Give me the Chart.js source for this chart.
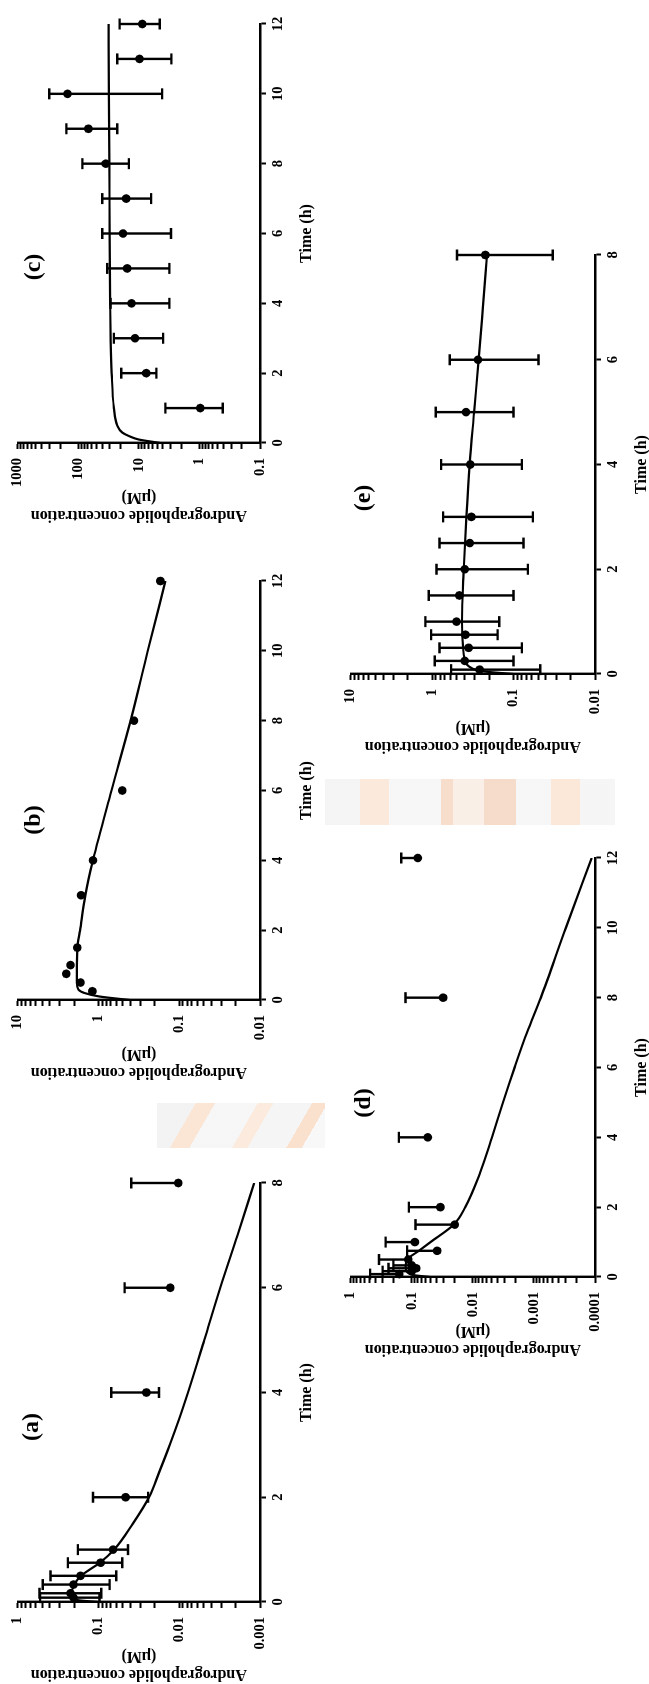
<!DOCTYPE html>
<html><head><meta charset="utf-8">
<script src="https://cdn.jsdelivr.net/npm/chart.js@4.4.1/dist/chart.umd.min.js"></script>
<style>
html,body{margin:0;padding:0;background:#fff;}
body{width:649px;height:1684px;overflow:hidden;position:relative;}
#page{position:absolute;left:0;top:0;width:1684px;height:649px;transform-origin:0 0;transform:translate(0px,1684px) rotate(-90deg);}
.panel{position:absolute;}
.plabel{position:absolute;font:bold 24px "Liberation Serif","Times New Roman",serif;transform:translate(-50%,-50%);white-space:nowrap;color:#000;}
.wm{position:absolute;opacity:0.45;}
#wm1{left:157px;top:1103px;width:168px;height:45px;background:linear-gradient(120deg,#e4e4e4 0 20%,#f6c6a0 20% 30%,#ececec 30% 52%,#f7d2b4 52% 60%,#e9e9e9 60% 80%,#f4bc92 80% 88%,#efefef 88%);}
#wm2{left:325px;top:779px;width:290px;height:46px;background:linear-gradient(90deg,#e8e8e8 0 12%,#f6d0b0 12% 22%,#ececec 22% 40%,#eeb48c 40% 44%,#f3dccb 44% 55%,#eab08a 55% 66%,#ececec 66% 78%,#f5cba8 78% 88%,#eaeaea 88%);}
</style></head><body>
<div class="wm" id="wm1"></div><div class="wm" id="wm2"></div>
<div id="page"></div>
<script>
// ---------- Panel (a) ----------
const timeA = [0.083, 0.167, 0.333, 0.5, 0.75, 1, 2, 4, 6, 8];
const concA = [0.204, 0.222, 0.204, 0.167, 0.094, 0.0662, 0.0461, 0.0255, 0.0129, 0.0103];
const errHighA = [0.528, 0.538, 0.49, 0.393, 0.239, 0.18, 0.117, 0.0695, 0.0474, 0.0392];
const errLowA = [0.0969, 0.0924, 0.0728, 0.0602, 0.0507, 0.0431, 0.0243, 0.0178, null, null];
const fitTimeA = [0, 0.03, 0.083, 0.15, 0.333, 0.5, 0.75, 1, 1.5, 2, 2.5, 3, 3.5, 4, 5, 6, 7, 8];
const fitConcA = [0.097, 0.17, 0.205, 0.215, 0.2, 0.165, 0.096, 0.064, 0.0374, 0.0237, 0.0175, 0.0131, 0.01, 0.0078, 0.0049, 0.0031, 0.0019, 0.00118];
const xTicksA = [0, 2, 4, 6, 8];
const yTicksA = [0.001, 0.01, 0.1, 1];
const yLabelsA = ['0.001', '0.01', '0.1', '1'];

// ---------- Panel (b) ----------
const timeB = [0.25, 0.5, 0.75, 1, 1.5, 3, 4, 6, 8, 12];
const concB = [1.19, 1.67, 2.51, 2.22, 1.83, 1.64, 1.17, 0.507, 0.363, 0.171];
const fitTimeB = [0, 0.1, 0.2, 0.3, 0.5, 1, 1.5, 2, 3, 4, 6, 8, 10, 12];
const fitConcB = [0.41, 0.97, 1.49, 1.77, 1.85, 1.85, 1.82, 1.69, 1.45, 1.17, 0.69, 0.40, 0.245, 0.148];
const xTicksB = [0, 2, 4, 6, 8, 10, 12];
const yTicksB = [0.01, 0.1, 1, 10];
const yLabelsB = ['0.01', '0.1', '1', '10'];

// ---------- Panel (c) ----------
const timeC = [1, 2, 3, 4, 5, 6, 7, 8, 9, 10, 11, 12];
const concC = [0.968, 7.57, 11.6, 13.2, 15.6, 18.3, 16.2, 35.3, 68.1, 150.6, 9.75, 8.81];
const errHighC = [3.65, 19.5, 25.8, 29.2, 33.2, 40.1, 40.1, 85.5, 157, 301, 22.7, 20.8];
const errLowC = [0.411, 5.13, 3.98, 3.13, 3.13, 2.94, 6.27, 14.6, 22.7, 4.13, 2.9, 4.52];
const fitTimeC = [0, 0.1, 0.2, 0.3, 0.5, 1, 2, 3, 4, 6, 8, 10, 12];
const fitConcC = [4.4, 10, 14.6, 18.8, 22.7, 25.8, 28.1, 29.2, 29.7, 30.3, 30.7, 31.2, 31.6];
const xTicksC = [0, 2, 4, 6, 8, 10, 12];
const yTicksC = [0.1, 1, 10, 100, 1000];
const yLabelsC = ['0.1', '1', '10', '100', '1000'];

// ---------- Panel (d) ----------
const timeD = [0.083, 0.167, 0.25, 0.333, 0.5, 0.75, 1, 1.5, 2, 4, 8, 12];
const concD = [0.16, 0.1, 0.085, 0.1, 0.1145, 0.0385, 0.0891, 0.0198, 0.034, 0.0546, 0.0307, 0.0796];
const errHighD = [0.48, 0.3, 0.24, 0.2, 0.344, 0.119, 0.268, 0.0869, 0.1116, 0.1625, 0.1265, 0.149];
const errLowD = [null, null, null, null, null, null, null, null, null, null, null, null];
const fitTimeD = [0, 0.05, 0.15, 0.3, 0.5, 0.75, 1, 1.5, 2, 3, 4, 5, 6, 7, 8, 10, 12];
const fitConcD = [0.05, 0.09, 0.12, 0.126, 0.119, 0.0766, 0.0494, 0.0206, 0.0133, 0.00755, 0.00486, 0.00321, 0.00207, 0.0013, 0.00077, 0.0003, 0.000113];
const xTicksD = [0, 2, 4, 6, 8, 10, 12];
const yTicksD = [0.0001, 0.001, 0.01, 0.1, 1];
const yLabelsD = ['0.0001', '0.001', '0.01', '0.1', '1'];

// ---------- Panel (e) ----------
const timeE = [0.083, 0.25, 0.5, 0.75, 1, 1.5, 2, 2.5, 3, 4, 5, 6, 8];
const concE = [0.261, 0.398, 0.356, 0.391, 0.503, 0.463, 0.398, 0.346, 0.33, 0.34, 0.384, 0.273, 0.222];
const errHighE = [0.585, 0.927, 0.813, 1.03, 1.21, 1.1, 0.885, 0.813, 0.733, 0.776, 0.902, 0.608, 0.494];
const errLowE = [0.047, 0.1, 0.079, 0.157, 0.15, 0.1, 0.0667, 0.0755, 0.058, 0.079, 0.1, 0.0494, 0.033];
const fitTimeE = [0, 0.05, 0.15, 0.3, 0.5, 1, 2, 3, 4, 5, 6, 7, 8];
const fitConcE = [0.1, 0.233, 0.356, 0.4, 0.417, 0.43, 0.409, 0.38, 0.346, 0.305, 0.268, 0.238, 0.212];
const xTicksE = [0, 2, 4, 6, 8];
const yTicksE = [0.01, 0.1, 1, 10];
const yLabelsE = ['0.01', '0.1', '1', '10'];

const panelLabels = ['(a)', '(b)', '(c)', '(d)', '(e)'];
const xTitle = 'Time (h)';
const yTitle = ['Andrographolide concentration', '(\u03bcM)'];

// ---------- rendering ----------
const FONT = '"Liberation Serif", "Times New Roman", Times, serif';
Chart.defaults.font.family = FONT;
Chart.defaults.font.weight = 'bold';
Chart.defaults.color = '#000';

function logTicks(majors) {
  const out = [];
  for (let i = 0; i < majors.length; i++) {
    const m = majors[i];
    out.push({ value: m, major: true });
    if (i < majors.length - 1) {
      for (let k = 2; k <= 9; k++) out.push({ value: +(m * k).toPrecision(8), major: false });
    }
  }
  return out;
}

const errorBars = {
  id: 'errorBars',
  beforeDatasetsDraw(chart) {
    const ctx = chart.ctx, xs = chart.scales.x, ys = chart.scales.y;
    chart.data.datasets.forEach(ds => {
      if (!ds.errHigh && !ds.errLow) return;
      ctx.save();
      ctx.strokeStyle = '#000';
      ctx.lineWidth = 2.4;
      ds.data.forEach((p, i) => {
        const px = xs.getPixelForValue(p.x);
        const py = ys.getPixelForValue(p.y);
        [ds.errHigh ? ds.errHigh[i] : null, ds.errLow ? ds.errLow[i] : null].forEach(v => {
          if (v == null) return;
          const ey = ys.getPixelForValue(v);
          ctx.beginPath();
          ctx.moveTo(px, py); ctx.lineTo(px, ey);
          ctx.moveTo(px - 5.5, ey); ctx.lineTo(px + 5.5, ey);
          ctx.stroke();
        });
      });
      ctx.restore();
    });
  }
};

const page = document.getElementById('page');
const Y_AXIS_W = 82, X_AXIS_H = 56, PAD_TOP = 17, PAD_RIGHT = 22, AREA_W = 419;

function makePanel(p) {
  const W = Y_AXIS_W + AREA_W + PAD_RIGHT;
  const H = PAD_TOP + p.areaH + X_AXIS_H;
  const wrap = document.createElement('div');
  wrap.className = 'panel';
  wrap.style.left = (p.areaLeft - Y_AXIS_W) + 'px';
  wrap.style.top = (p.areaTop - PAD_TOP) + 'px';
  const cv = document.createElement('canvas');
  cv.width = W; cv.height = H;
  cv.style.width = W + 'px'; cv.style.height = H + 'px';
  wrap.appendChild(cv);
  page.appendChild(wrap);

  const lab = document.createElement('div');
  lab.className = 'plabel';
  lab.textContent = p.label;
  lab.style.left = p.labelX + 'px';
  lab.style.top = p.labelY + 'px';
  page.appendChild(lab);

  const fit = p.fitT.map((t, i) => ({ x: t, y: p.fitC[i] }));
  const obs = p.t.map((t, i) => ({ x: t, y: p.c[i] }));
  const datasets = [
    { data: fit, borderColor: '#000', borderWidth: 2.2, pointRadius: 0, cubicInterpolationMode: 'monotone', fill: false, order: 2 },
    { data: obs, showLine: false, clip: false, pointRadius: 4.3, pointHoverRadius: 4.3, pointBackgroundColor: '#000', pointBorderColor: '#000', pointBorderWidth: 0, errHigh: p.eh || null, errLow: p.el || null, order: 1 }
  ];
  const tickFont = { size: 14.5, weight: 'bold', family: FONT };
  const gridOpt = { display: true, drawOnChartArea: false, drawTicks: true, tickLength: 6, tickWidth: 2, tickColor: '#000' };
  new Chart(cv, {
    type: 'line',
    data: { datasets },
    options: {
      responsive: false, animation: false, devicePixelRatio: 1,
      layout: { padding: { left: 0, top: PAD_TOP, right: PAD_RIGHT, bottom: 0 } },
      plugins: { legend: { display: false }, tooltip: { enabled: false }, title: { display: false } },
      events: [],
      scales: {
        x: {
          type: 'linear', min: 0, max: p.xTicks[p.xTicks.length - 1],
          afterBuildTicks: s => { s.ticks = p.xTicks.map(v => ({ value: v })); },
          afterFit: s => { s.height = X_AXIS_H; },
          ticks: { font: tickFont, padding: 4, maxRotation: 0, autoSkip: false, color: '#000',
                   callback: v => String(v) },
          grid: gridOpt,
          border: { display: true, color: '#000', width: 2.4 },
          title: { display: true, text: xTitle, color: '#000', font: { size: 16, weight: 'bold', family: FONT }, padding: { top: 0, bottom: 0 } }
        },
        y: {
          type: 'logarithmic', min: p.yTicks[0], max: p.yTicks[p.yTicks.length - 1],
          afterBuildTicks: s => { s.ticks = logTicks(p.yTicks); },
          afterFit: s => { s.width = Y_AXIS_W; },
          ticks: { font: tickFont, padding: 9, autoSkip: false, color: '#000',
                   callback: v => {
                     const i = p.yTicks.findIndex(t => Math.abs(Math.log10(t) - Math.log10(v)) < 1e-6);
                     return i >= 0 ? p.yLabels[i] : '';
                   } },
          grid: gridOpt,
          border: { display: true, color: '#000', width: 2.4 },
          title: { display: true, text: yTitle, color: '#000', font: { size: 16, weight: 'bold', family: FONT, lineHeight: 1.125 }, padding: { top: 1, bottom: 0 } }
        }
      }
    },
    plugins: [errorBars]
  });
}

makePanel({ label: panelLabels[0], labelX: 257, labelY: 30, areaLeft: 82, areaTop: 17, areaH: 243,
  t: timeA, c: concA, eh: errHighA, el: errLowA, fitT: fitTimeA, fitC: fitConcA, xTicks: xTicksA, yTicks: yTicksA, yLabels: yLabelsA });
makePanel({ label: panelLabels[1], labelX: 864, labelY: 32, areaLeft: 684, areaTop: 17, areaH: 243,
  t: timeB, c: concB, fitT: fitTimeB, fitC: fitConcB, xTicks: xTicksB, yTicks: yTicksB, yLabels: yLabelsB });
makePanel({ label: panelLabels[2], labelX: 1417, labelY: 32, areaLeft: 1241, areaTop: 17, areaH: 243,
  t: timeC, c: concC, eh: errHighC, el: errLowC, fitT: fitTimeC, fitC: fitConcC, xTicks: xTicksC, yTicks: yTicksC, yLabels: yLabelsC });
makePanel({ label: panelLabels[3], labelX: 581, labelY: 362, areaLeft: 407, areaTop: 350, areaH: 245,
  t: timeD, c: concD, eh: errHighD, el: errLowD, fitT: fitTimeD, fitC: fitConcD, xTicks: xTicksD, yTicks: yTicksD, yLabels: yLabelsD });
makePanel({ label: panelLabels[4], labelX: 1186, labelY: 362, areaLeft: 1010, areaTop: 350, areaH: 245,
  t: timeE, c: concE, eh: errHighE, el: errLowE, fitT: fitTimeE, fitC: fitConcE, xTicks: xTicksE, yTicks: yTicksE, yLabels: yLabelsE });
</script>
</body></html>
